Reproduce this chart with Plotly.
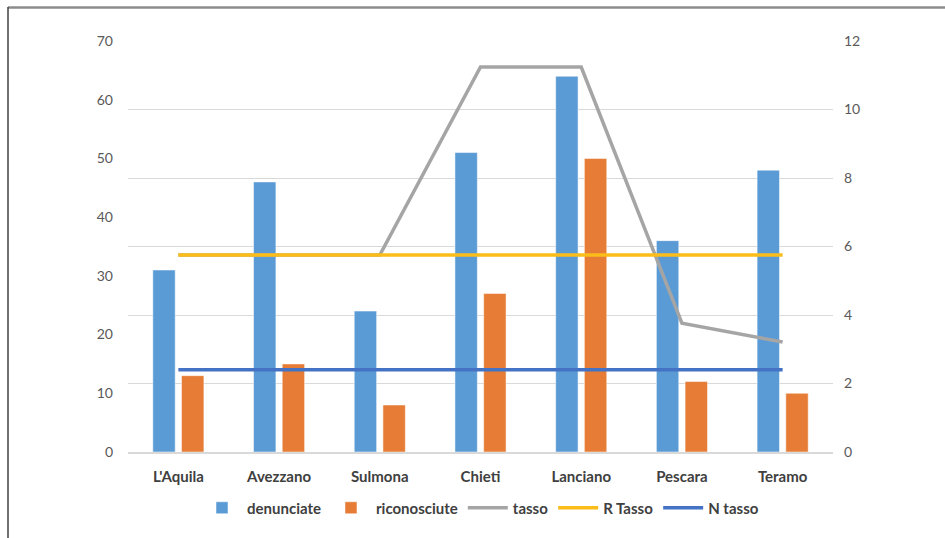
import plotly.graph_objects as go

categories = ["L'Aquila", "Avezzano", "Sulmona", "Chieti", "Lanciano", "Pescara", "Teramo"]
denunciate = [31, 46, 24, 51, 64, 36, 48]
riconosciute = [13, 15, 8, 27, 50, 12, 10]
tasso = [5.75, 5.75, 5.75, 11.24, 11.24, 3.76, 3.21]
r_tasso = [5.75] * 7
n_tasso = [2.4] * 7

left_ticks = [0, 10, 20, 30, 40, 50, 60, 70]
right_ticks = [0, 2, 4, 6, 8, 10, 12]

FONT = "Lato, 'Open Sans', sans-serif"

fig = go.Figure()
fig.add_trace(go.Bar(x=categories, y=denunciate, name="denunciate",
                     marker=dict(color="#5B9BD5", line=dict(color="white", width=0.5))))
fig.add_trace(go.Bar(x=categories, y=riconosciute, name="riconosciute",
                     marker=dict(color="#E67C35", line=dict(color="white", width=0.5))))
fig.add_trace(go.Scatter(x=categories, y=tasso, name="tasso", yaxis="y2", mode="lines",
                         line=dict(color="#A5A5A5", width=3.5)))
fig.add_trace(go.Scatter(x=categories, y=r_tasso, name="R Tasso", yaxis="y2", mode="lines",
                         line=dict(color="#FBBD1A", width=3.5)))
fig.add_trace(go.Scatter(x=categories, y=n_tasso, name="N tasso", yaxis="y2", mode="lines",
                         line=dict(color="#4472C4", width=3.5)))

W, H = 945, 538
L, R, T, B = 128, 833, 41, 452
pw, ph = R - L, B - T

def px_x(p):
    return (p - L) / pw

def px_y(p):
    return (B - p) / ph

fig.update_layout(
    width=W, height=H,
    margin=dict(l=L, r=W - R, t=T, b=H - B),
    paper_bgcolor="white", plot_bgcolor="white",
    barmode="group", bargap=0.43, bargroupgap=0.22,
    font=dict(family=FONT, size=14, color="#595959"),
    xaxis=dict(showgrid=False, showline=True, linecolor="#D9D9D9", linewidth=1.5,
               ticks="", ticklabelstandoff=10,
               tickfont=dict(family=FONT, size=15, color="#404040", weight="bold")),
    yaxis=dict(range=[0, 70], tickvals=left_ticks, showgrid=False, zeroline=False,
               ticks="", ticklabelstandoff=14, tickfont=dict(size=14, color="#595959")),
    yaxis2=dict(range=[0, 12], tickvals=right_ticks, overlaying="y", side="right",
                showgrid=True, gridcolor="#D9D9D9", gridwidth=1.2, zeroline=False,
                ticks="", ticklabelstandoff=10, tickfont=dict(size=14, color="#595959")),
    legend=dict(orientation="h", x=0.5, xanchor="center", y=px_y(508), yanchor="middle",
                font=dict(family=FONT, size=15, color="#404040", weight="bold"),
                itemwidth=40, traceorder="normal"),
    shapes=[
        dict(type="line", xref="paper", yref="paper", x0=px_x(8), x1=px_x(945),
             y0=px_y(7.5), y1=px_y(7.5), line=dict(color="#8C8C8C", width=2.5)),
        dict(type="line", xref="paper", yref="paper", x0=px_x(8), x1=px_x(8),
             y0=px_y(7), y1=px_y(538), line=dict(color="#404040", width=1.5)),
    ],
)

fig.write_html("out.html", config={"displayModeBar": False},
               post_script="document.body.style.margin='0';")
